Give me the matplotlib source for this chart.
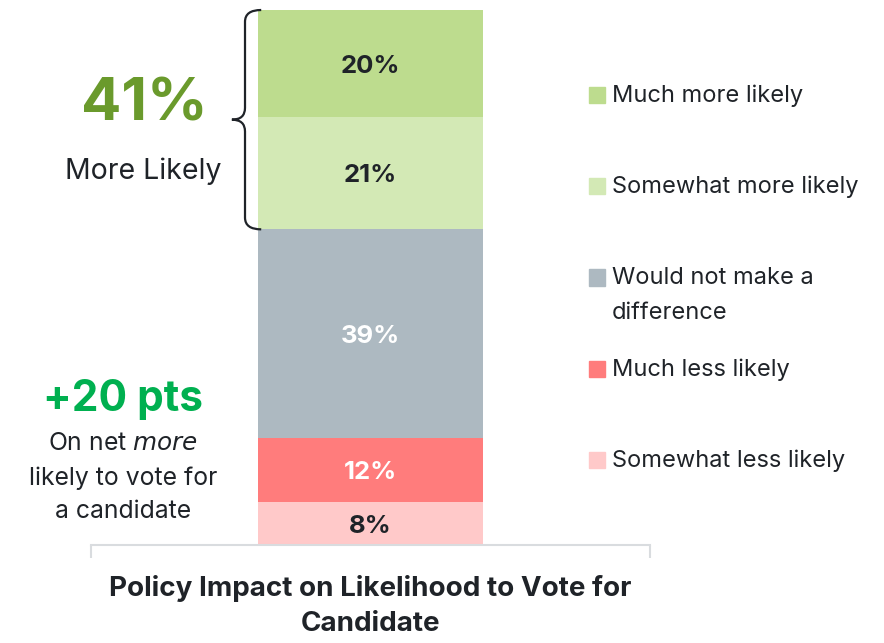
import matplotlib.pyplot as plt
from matplotlib.patches import Rectangle, PathPatch
from matplotlib.path import Path

plt.rcParams['font.family'] = ['Inter', 'DejaVu Sans']

# data, bottom to top
categories = ["Somewhat less likely", "Much less likely", "Would not make a\ndifference",
              "Somewhat more likely", "Much more likely"]
values = [8, 12, 39, 21, 20]
labels = ["8%", "12%", "39%", "21%", "20%"]
colors = ["#FFC9C9", "#FF7C7C", "#ADB9C1", "#D3E9B5", "#BDDC8E"]
label_colors = ["#1F2328", "#FFFFFF", "#FFFFFF", "#1F2328", "#1F2328"]
title = "Policy Impact on Likelihood to Vote for\nCandidate"
more_label = "41%"
net_label = "+20 pts"

W, H = 884, 643
fig = plt.figure(figsize=(W / 100, H / 100), dpi=100)

def fx(x):
    return x / W

def fy(y):
    return 1 - y / H

ax = fig.add_axes([fx(91), fy(545), fx(650) - fx(91), fy(10) - fy(545)])
ax.set_xlim(-0.5, 0.5)
ax.set_ylim(0, 100)

bottom = 0
for v, lab, c, lc in zip(values, labels, colors, label_colors):
    ax.bar(0, v, width=0.4025, bottom=bottom, color=c, linewidth=0)
    ax.text(0, bottom + v / 2 - 0.5, lab, ha="center", va="center", fontsize=18.5,
            fontweight="bold", color=lc)
    bottom += v

for s in ["top", "right", "left"]:
    ax.spines[s].set_visible(False)
ax.spines["bottom"].set_color("#D9DCDF")
ax.spines["bottom"].set_linewidth(1.5)
ax.set_yticks([])
ax.set_xticks([-0.5, 0.5])
ax.set_xticklabels([])
ax.tick_params(axis="x", length=9, width=1.5, color="#D9DCDF")

ax.set_xlabel(title, fontsize=20, fontweight="bold", color="#1F2328", labelpad=9,
              linespacing=1.45)

# brace around the "more likely" segments
top = sum(values)
low = sum(values[:3])
mid = (top + low) / 2
xb = -0.2245   # brace spine
xe = -0.1955   # brace ends
xt = -0.248    # brace tip
r = 2.2
verts = [
    (xe, top), (xb, top), (xb, top - r),
    (xb, mid + r), (xb, mid), (xt, mid),
    (xb, mid), (xb, mid - r),
    (xb, low + r), (xb, low), (xe, low),
]
codes = [Path.MOVETO, Path.CURVE3, Path.CURVE3,
         Path.LINETO, Path.CURVE3, Path.CURVE3,
         Path.CURVE3, Path.CURVE3,
         Path.LINETO, Path.CURVE3, Path.CURVE3]
ax.add_patch(PathPatch(Path(verts, codes), fill=False, edgecolor="#1F2328",
                       linewidth=1.6, clip_on=False))

# side notes
fig.text(fx(144), fy(105), more_label, ha="center", va="center", fontsize=43,
         fontweight="bold", color="#6A9A2C")
fig.text(fx(143), fy(171), "More Likely", ha="center", va="center", fontsize=20.5,
         color="#1F2328")
fig.text(fx(123), fy(399), net_label, ha="center", va="center", fontsize=30.5,
         fontweight="bold", color="#00B050")
fig.text(fx(123), fy(443), "On net $\\it{more}$", ha="center", va="center",
         fontsize=17.8, color="#1F2328")
fig.text(fx(123), fy(478), "likely to vote for", ha="center", va="center",
         fontsize=17.8, color="#1F2328")
fig.text(fx(123), fy(511), "a candidate", ha="center", va="center",
         fontsize=17.8, color="#1F2328")

# legend, top to bottom
for i, (cat, c) in enumerate(zip(categories[::-1], colors[::-1])):
    y = 96 + 91.25 * i
    fig.patches.append(Rectangle((fx(589), fy(y + 7)), 16 / W, 16 / H, color=c,
                                 transform=fig.transFigure))
    for j, line in enumerate(cat.split("\n")):
        fig.text(fx(612), fy(y + 34 * j), line, ha="left", va="center",
                 fontsize=17, color="#1F2328")

fig.savefig("out.png", dpi=100, facecolor="white")
